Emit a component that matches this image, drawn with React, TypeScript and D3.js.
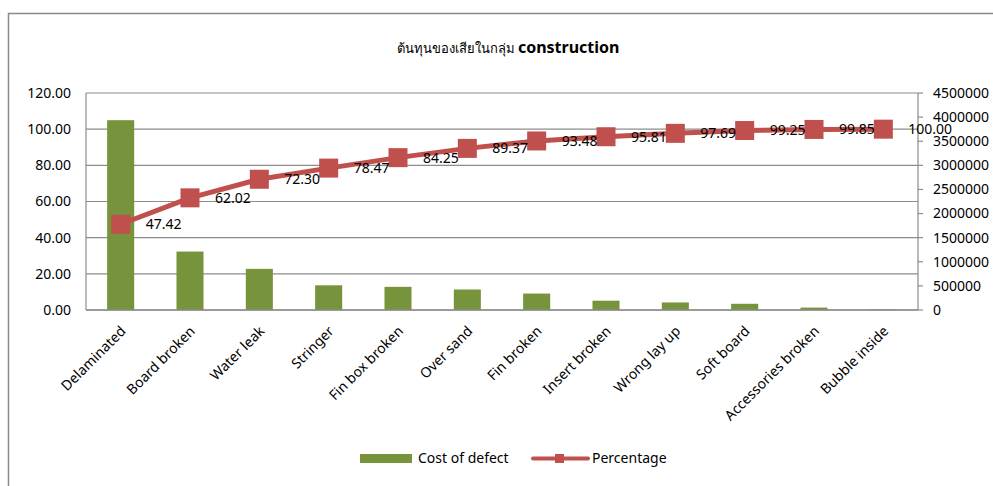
import React from "react";
import * as d3 from "d3";

const categories = [
  "Delaminated",
  "Board broken",
  "Water leak",
  "Stringer",
  "Fin box broken",
  "Over sand",
  "Fin broken",
  "Insert broken",
  "Wrong lay up",
  "Soft board",
  "Accessories broken",
  "Bubble inside",
];

const costOfDefect = [
  3936000, 1212000, 853000, 512000, 480000, 425000, 341000, 193000, 156000,
  129000, 50000, 12000,
];

const percentage = [
  47.42, 62.02, 72.3, 78.47, 84.25, 89.37, 93.48, 95.81, 97.69, 99.25, 99.85,
  100.0,
];

const leftTicks = [0, 20, 40, 60, 80, 100, 120];
const rightTicks = [
  0, 500000, 1000000, 1500000, 2000000, 2500000, 3000000, 3500000, 4000000,
  4500000,
];

const W = 993;
const H = 486;
const plot = { left: 86, right: 918, top: 93, bottom: 310 };

const FONT = "'Noto Sans', 'DejaVu Sans', 'Open Sans', sans-serif";
const BAR = "#77933C";
const LINE = "#C0504D";
const GRID = "#8C8C8C";

export default function App() {
  const x = d3
    .scaleBand<string>()
    .domain(categories)
    .range([plot.left, plot.right])
    .paddingInner(0.61)
    .paddingOuter(0.305);
  const yLeft = d3.scaleLinear().domain([0, 120]).range([plot.bottom, plot.top]);
  const yRight = d3
    .scaleLinear()
    .domain([0, 4500000])
    .range([plot.bottom, plot.top]);

  const cx = (c: string) => (x(c) ?? 0) + x.bandwidth() / 2;

  const line = d3
    .line<number>()
    .x((_, i) => cx(categories[i]))
    .y((d) => yLeft(d));

  const markerSize = 19;

  return (
    <svg
      width={W}
      height={H}
      style={{ position: "absolute", left: 0, top: 0, background: "#fff" }}
      fontFamily={FONT}
    >
      {/* chart frame */}
      <rect
        x={8.5}
        y={13.5}
        width={W + 20}
        height={H + 20}
        fill="#fff"
        stroke="#898989"
        strokeWidth={1.5}
      />

      {/* title */}
      <text x={508} y={53} textAnchor="middle" fill="#000">
        <tspan fontSize={13}>ต้นทุนของเสียในกลุ่ม </tspan>
        <tspan fontSize={16} fontWeight="bold">
          construction
        </tspan>
      </text>

      {/* gridlines */}
      {leftTicks.map((t) => (
        <line
          key={"g" + t}
          x1={plot.left}
          x2={plot.right}
          y1={yLeft(t)}
          y2={yLeft(t)}
          stroke={GRID}
          strokeWidth={1.2}
        />
      ))}

      {/* left axis */}
      <line
        x1={plot.left}
        x2={plot.left}
        y1={plot.top}
        y2={plot.bottom}
        stroke={GRID}
        strokeWidth={1.2}
      />
      {leftTicks.map((t) => (
        <text
          key={"l" + t}
          x={plot.left - 15}
          y={yLeft(t)}
          dy="0.35em"
          textAnchor="end"
          fontSize={14}
          fill="#000"
        >
          {d3.format(".2f")(t)}
        </text>
      ))}

      {/* right axis */}
      <line
        x1={plot.right}
        x2={plot.right}
        y1={plot.top}
        y2={plot.bottom}
        stroke={GRID}
        strokeWidth={1.2}
      />
      {rightTicks.map((t) => (
        <g key={"r" + t}>
          <line
            x1={plot.right}
            x2={plot.right + 5}
            y1={yRight(t)}
            y2={yRight(t)}
            stroke={GRID}
            strokeWidth={1.2}
          />
          <text
            x={plot.right + 15}
            y={yRight(t)}
            dy="0.35em"
            textAnchor="start"
            fontSize={14}
            fill="#000"
          >
            {String(t)}
          </text>
        </g>
      ))}

      {/* bars */}
      {categories.map((c, i) => (
        <rect
          key={"b" + c}
          x={x(c)}
          y={yRight(costOfDefect[i])}
          width={x.bandwidth()}
          height={plot.bottom - yRight(costOfDefect[i])}
          fill={BAR}
        />
      ))}

      {/* category axis */}
      <line
        x1={plot.left}
        x2={plot.right}
        y1={plot.bottom}
        y2={plot.bottom}
        stroke={GRID}
        strokeWidth={1.5}
      />
      {categories.map((c) => (
        <text
          key={"c" + c}
          transform={`translate(${cx(c) + 6},${plot.bottom + 22}) rotate(-45)`}
          textAnchor="end"
          fontSize={14}
          fill="#000"
        >
          {c}
        </text>
      ))}

      {/* cumulative percentage line */}
      <path
        d={line(percentage) ?? ""}
        fill="none"
        stroke={LINE}
        strokeWidth={5}
        strokeLinejoin="round"
      />
      {percentage.map((p, i) => (
        <rect
          key={"m" + i}
          x={cx(categories[i]) - markerSize / 2}
          y={yLeft(p) - markerSize / 2}
          width={markerSize}
          height={markerSize}
          fill={LINE}
        />
      ))}
      {percentage.map((p, i) => (
        <text
          key={"v" + i}
          x={cx(categories[i]) + 25}
          y={yLeft(p)}
          dy="0.35em"
          fontSize={14}
          fill="#000"
        >
          {d3.format(".2f")(p)}
        </text>
      ))}

      {/* legend */}
      <rect x={360} y={454} width={52} height={9} fill={BAR} />
      <text x={418} y={458.5} dy="0.35em" fontSize={14} fill="#000">
        Cost of defect
      </text>
      <line
        x1={533}
        x2={588}
        y1={458.5}
        y2={458.5}
        stroke={LINE}
        strokeWidth={4}
        strokeLinecap="round"
      />
      <rect x={555} y={454} width={9} height={9} fill={LINE} />
      <text x={592} y={458.5} dy="0.35em" fontSize={14} fill="#000">
        Percentage
      </text>
    </svg>
  );
}
